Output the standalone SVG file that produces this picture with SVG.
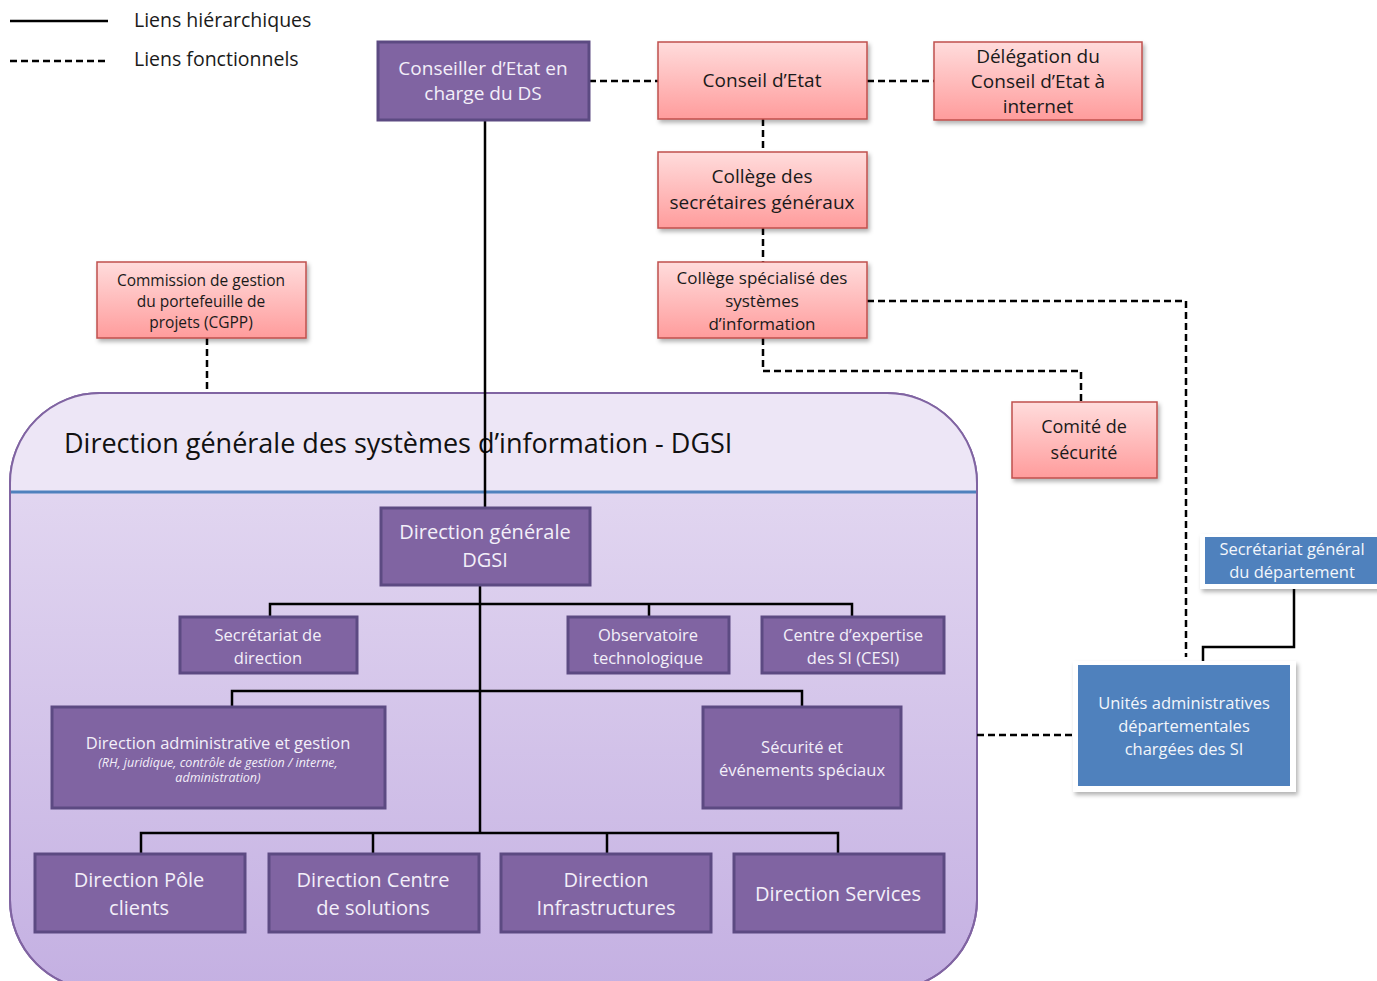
<svg xmlns="http://www.w3.org/2000/svg" width="1377" height="981" viewBox="0 0 1377 981">
<defs>
<linearGradient id="pink" x1="0" y1="0" x2="0" y2="1">
<stop offset="0" stop-color="#ffdcdc"/>
<stop offset="1" stop-color="#ff9c9c"/>
</linearGradient>
<linearGradient id="cont" x1="0" y1="0" x2="0" y2="1">
<stop offset="0" stop-color="#e7ddf3"/>
<stop offset="1" stop-color="#c4b0e2"/>
</linearGradient>
<filter id="sh" x="-10%" y="-10%" width="130%" height="140%">
<feDropShadow dx="2" dy="3" stdDeviation="2" flood-color="#000" flood-opacity="0.3"/>
</filter>
<clipPath id="clipTop"><rect x="0" y="380" width="1000" height="112"/></clipPath>
</defs>
<style>
.t{font-family:"Open Sans","Liberation Sans",sans-serif;text-anchor:middle}
.pk rect{fill:url(#pink);stroke:#c0504d;stroke-width:1.5;filter:url(#sh)}
.pk text{fill:#1a1a1a}
.pu rect{fill:#8064a2;stroke:#5c4a82;stroke-width:3}
.pu text{fill:#f3eff9}
.bl .o{fill:#fff;filter:url(#sh)}
.bl .i{fill:#4f81bd}
.bl text{fill:#f3f6fb}
.solid{fill:none;stroke:#000;stroke-width:2.5}
.dash{fill:none;stroke:#000;stroke-width:2.5;stroke-dasharray:7 4}
</style>
<rect width="1377" height="981" fill="#fff"/>

<g id="legend">
<line x1="10" y1="21" x2="108" y2="21" class="solid"/>
<line x1="10" y1="61" x2="108" y2="61" class="dash"/>
<text x="134" y="27" font-family="Open Sans, Liberation Sans, sans-serif" font-size="19.5" fill="#1a1a1a">Liens hiérarchiques</text>
<text x="134" y="66" font-family="Open Sans, Liberation Sans, sans-serif" font-size="19.5" fill="#1a1a1a">Liens fonctionnels</text>
</g>

<g id="dgsi-container">
<path d="M100,393 H887 A90,90 0 0 1 977,483 V900 A90,90 0 0 1 887,990 H100 A90,90 0 0 1 10,900 V483 A90,90 0 0 1 100,393 Z" fill="url(#cont)" stroke="#8064a2" stroke-width="2"/>
<path d="M100,393 H887 A90,90 0 0 1 977,483 V900 A90,90 0 0 1 887,990 H100 A90,90 0 0 1 10,900 V483 A90,90 0 0 1 100,393 Z" fill="#ede6f6" clip-path="url(#clipTop)"/>
<path d="M100,393 H887 A90,90 0 0 1 977,483 V900 A90,90 0 0 1 887,990 H100 A90,90 0 0 1 10,900 V483 A90,90 0 0 1 100,393 Z" fill="none" stroke="#8064a2" stroke-width="2"/>
<line x1="11" y1="492" x2="976" y2="492" stroke="#4f81bd" stroke-width="3"/>
<text x="64" y="453" font-family="Open Sans, Liberation Sans, sans-serif" font-size="27" fill="#111">Direction générale des systèmes d’information - DGSI</text>
</g>

<g id="connectors">
<line x1="485" y1="120" x2="485" y2="508" class="solid"/>
<path d="M480,585 V833" class="solid"/>
<path d="M270,617 V604 H852 V617 M649,604 V617" class="solid"/>
<path d="M232,707 V691 H802 V707" class="solid"/>
<path d="M141,854 V833 H838 V854 M373,833 V854 M607,833 V854" class="solid"/>
<path d="M1294,588 V647 H1203 V665" class="solid"/>
<line x1="589" y1="81" x2="658" y2="81" class="dash"/>
<line x1="867" y1="81" x2="934" y2="81" class="dash"/>
<line x1="763" y1="119" x2="763" y2="152" class="dash"/>
<line x1="763" y1="228" x2="763" y2="262" class="dash"/>
<path d="M867,301 H1186 V657" class="dash"/>
<path d="M763,338 V371 H1081 V402" class="dash"/>
<line x1="207" y1="338" x2="207" y2="393" class="dash"/>
<line x1="977" y1="735" x2="1075" y2="735" class="dash"/>
</g>

<g id="conseiller" class="pu">
<rect x="378" y="42" width="211" height="78"/>
<text class="t" font-size="19"><tspan x="483" y="75">Conseiller d’Etat en</tspan><tspan x="483" y="100">charge du DS</tspan></text>
</g>

<g id="conseil-etat" class="pk">
<rect x="658" y="42" width="209" height="77"/>
<text class="t" font-size="19" x="762" y="87">Conseil d’Etat</text>
</g>

<g id="delegation" class="pk">
<rect x="934" y="42" width="208" height="78"/>
<text class="t" font-size="19"><tspan x="1038" y="63">Délégation du</tspan><tspan x="1038" y="88">Conseil d’Etat à</tspan><tspan x="1038" y="113">internet</tspan></text>
</g>

<g id="college-sg" class="pk">
<rect x="658" y="152" width="209" height="76"/>
<text class="t" font-size="19"><tspan x="762" y="183">Collège des</tspan><tspan x="762" y="209">secrétaires généraux</tspan></text>
</g>

<g id="college-si" class="pk">
<rect x="658" y="262" width="209" height="76"/>
<text class="t" font-size="17"><tspan x="762" y="284">Collège spécialisé des</tspan><tspan x="762" y="307">systèmes</tspan><tspan x="762" y="330">d’information</tspan></text>
</g>

<g id="cgpp" class="pk">
<rect x="97" y="262" width="209" height="76"/>
<text class="t" font-size="15.5"><tspan x="201" y="286">Commission de gestion</tspan><tspan x="201" y="307">du portefeuille de</tspan><tspan x="201" y="328">projets (CGPP)</tspan></text>
</g>

<g id="comite" class="pk">
<rect x="1012" y="402" width="145" height="76"/>
<text class="t" font-size="18"><tspan x="1084" y="433">Comité de</tspan><tspan x="1084" y="459">sécurité</tspan></text>
</g>

<g id="dg" class="pu">
<rect x="381" y="508" width="209" height="77"/>
<text class="t" font-size="20"><tspan x="485" y="539">Direction générale</tspan><tspan x="485" y="567">DGSI</tspan></text>
</g>

<g id="secretariat" class="pu">
<rect x="180" y="617" width="177" height="56"/>
<text class="t" font-size="16.5"><tspan x="268" y="641">Secrétariat de</tspan><tspan x="268" y="664">direction</tspan></text>
</g>

<g id="observatoire" class="pu">
<rect x="568" y="617" width="161" height="56"/>
<text class="t" font-size="16.5"><tspan x="648" y="641">Observatoire</tspan><tspan x="648" y="664">technologique</tspan></text>
</g>

<g id="cesi" class="pu">
<rect x="762" y="617" width="182" height="56"/>
<text class="t" font-size="16.5"><tspan x="853" y="641">Centre d’expertise</tspan><tspan x="853" y="664">des SI (CESI)</tspan></text>
</g>

<g id="dir-admin" class="pu">
<rect x="52" y="707" width="333" height="101"/>
<text class="t" font-size="16.5" x="218" y="749">Direction administrative et gestion</text>
<text class="t" font-size="12.5" font-style="italic"><tspan x="218" y="767">(RH, juridique, contrôle de gestion / interne,</tspan><tspan x="218" y="782">administration)</tspan></text>
</g>

<g id="securite" class="pu">
<rect x="703" y="707" width="198" height="101"/>
<text class="t" font-size="16.5"><tspan x="802" y="753">Sécurité et</tspan><tspan x="802" y="776">événements spéciaux</tspan></text>
</g>

<g id="pole-clients" class="pu">
<rect x="35" y="854" width="210" height="78"/>
<text class="t" font-size="20"><tspan x="139" y="887">Direction Pôle</tspan><tspan x="139" y="915">clients</tspan></text>
</g>

<g id="centre-solutions" class="pu">
<rect x="269" y="854" width="210" height="78"/>
<text class="t" font-size="20"><tspan x="373" y="887">Direction Centre</tspan><tspan x="373" y="915">de solutions</tspan></text>
</g>

<g id="infrastructures" class="pu">
<rect x="501" y="854" width="210" height="78"/>
<text class="t" font-size="20"><tspan x="606" y="887">Direction</tspan><tspan x="606" y="915">Infrastructures</tspan></text>
</g>

<g id="services" class="pu">
<rect x="734" y="854" width="210" height="78"/>
<text class="t" font-size="20" x="838" y="901">Direction Services</text>
</g>

<g id="sg-departement" class="bl">
<rect class="o" x="1200" y="534" width="190" height="55"/>
<rect class="i" x="1205" y="537" width="185" height="47"/>
<text class="t" font-size="16.5"><tspan x="1292" y="555">Secrétariat général</tspan><tspan x="1292" y="578">du département</tspan></text>
</g>

<g id="unites" class="bl">
<rect class="o" x="1073" y="661" width="223" height="131"/>
<rect class="i" x="1078" y="665" width="212" height="121"/>
<text class="t" font-size="16.5"><tspan x="1184" y="709">Unités administratives</tspan><tspan x="1184" y="732">départementales</tspan><tspan x="1184" y="755">chargées des SI</tspan></text>
</g>
</svg>
